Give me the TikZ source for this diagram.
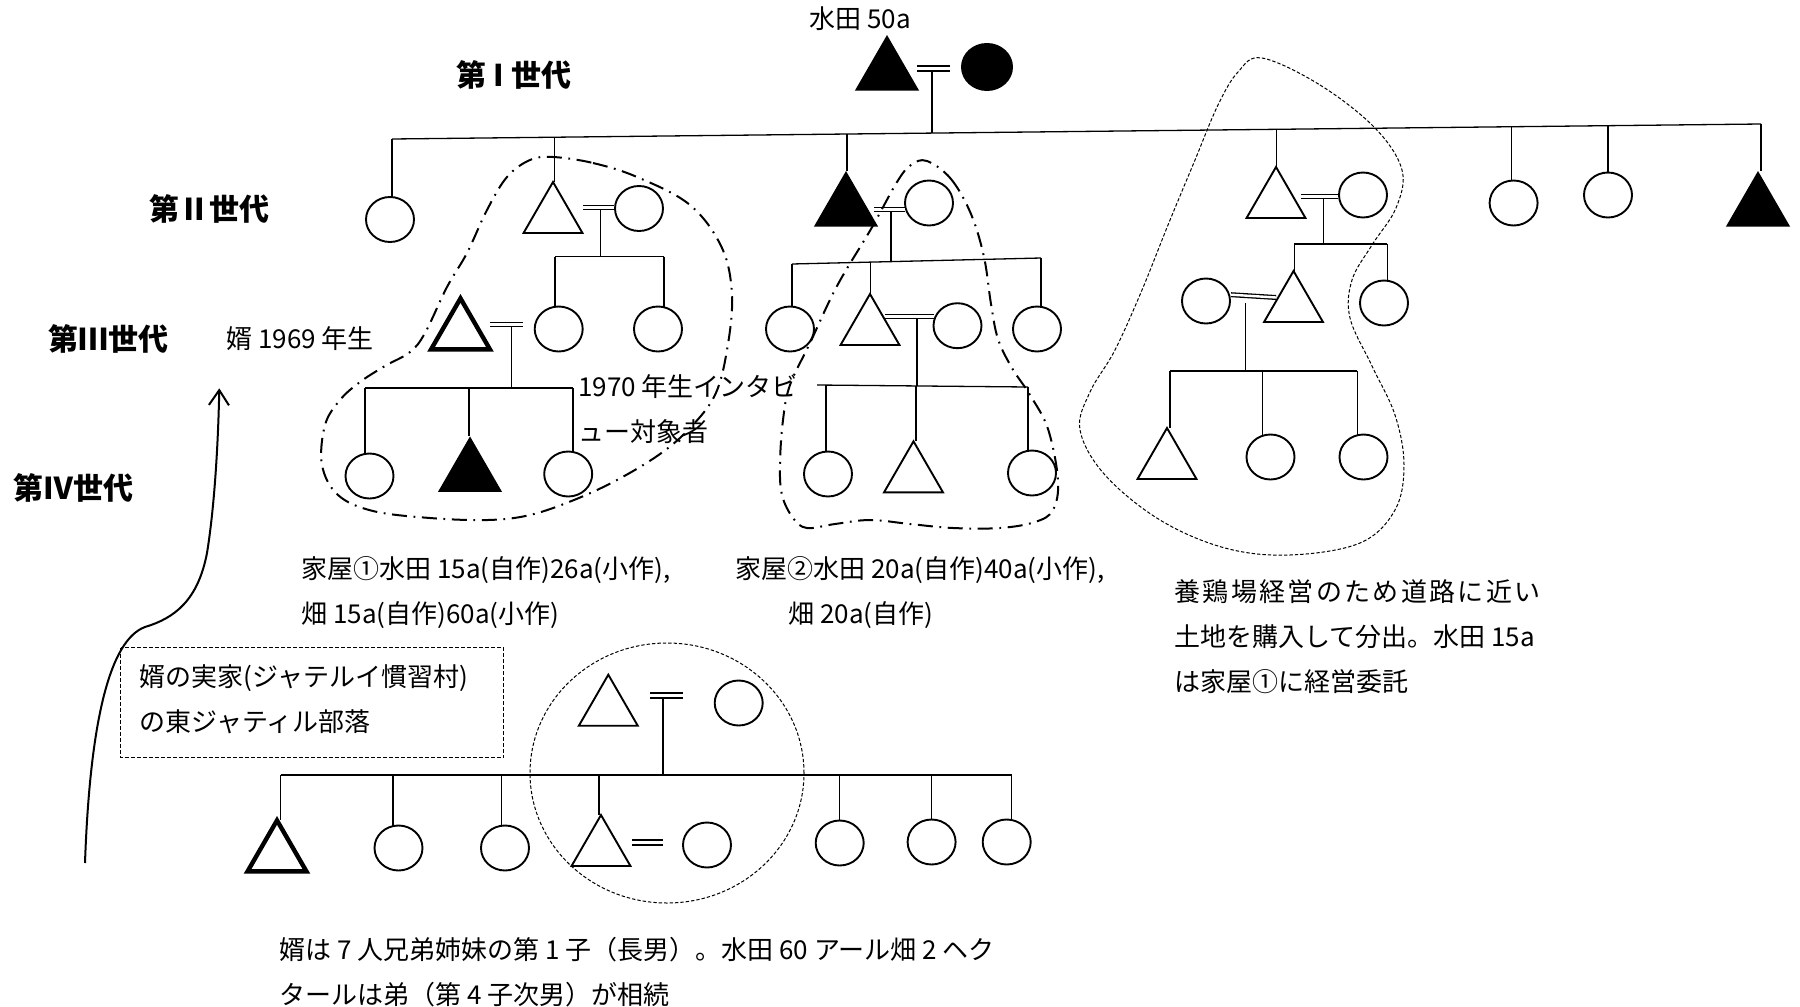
\documentclass[tikz,border=0pt]{standalone}
\usepackage{fontspec}
\setmainfont{Noto Sans CJK JP}
\usetikzlibrary{shapes.geometric,arrows.meta,calc}
\tikzset{
 conn/.style={line width=0.65pt},
 opentri/.style={regular polygon, regular polygon sides=3, draw, line width=0.95pt, minimum size=34pt, inner sep=0pt, outer sep=0pt},
 boldtri/.style={regular polygon, regular polygon sides=3, draw, line width=2.2pt, minimum size=34pt, inner sep=0pt, outer sep=0pt},
 filltri/.style={regular polygon, regular polygon sides=3, fill=black, minimum size=37pt, inner sep=0pt, outer sep=0pt},
 opencirc/.style={ellipse, draw, line width=0.95pt, minimum width=24pt, minimum height=22.5pt, inner sep=0pt, outer sep=0pt},
 fillcirc/.style={ellipse, fill=black, minimum width=26pt, minimum height=24pt, inner sep=0pt, outer sep=0pt},
 marr/.style={double, line width=0.65pt, double distance=1.2pt},
 marrthick/.style={double, line width=0.9pt, double distance=1.6pt},
 txt/.style={inner sep=0pt, font=\fontsize{13pt}{22.5pt}\selectfont, align=left},
 gen/.style={inner sep=0pt, font=\fontsize{15pt}{18pt}\selectfont\bfseries},
 ddot/.style={line width=1pt, dash pattern=on 7.5pt off 3.3pt on 0.9pt off 3.3pt},
 thindash/.style={line width=0.5pt, dash pattern=on 1.7pt off 1pt},
 boxdash/.style={line width=0.5pt, dash pattern=on 2pt off 1pt},
}
\begin{document}
\begin{tikzpicture}[x=0.5pt,y=-0.5pt]
\useasboundingbox (0,0) rectangle (1800,1007);

% ---------- generation labels ----------
\node[gen] (lg1) at (514,75) {第 I 世代};
\node[gen] (lg2) at (209.6,209) {第Ⅱ世代};
\node[gen] (lg3) at (108.5,339) {第Ⅲ世代};
\node[gen] (lg4) at (73,487.5) {第Ⅳ世代};

% ---------- generation I ----------
\node[txt] (lfield) at (860,19) {水田 50a};
\node[filltri] (g1m) at (887,72) {};
\node[fillcirc] (g1f) at (987,67) {};
\coordinate (e1a) at (917,68.2); \coordinate (e1b) at (950,68.2);
\draw[marrthick] (e1a) -- (e1b);
\coordinate (d1) at (932,70.5); \coordinate (b1) at (932,133.1);
\draw[conn] (d1) -- (b1);

% generation II sibling bar
\coordinate (B2L) at (392,139); \coordinate (B2R) at (1761,124);
\draw[conn] (B2L) -- (B2R);
\coordinate (p22) at (554.5,137.2);
\coordinate (p23) at (847,134.0);
\coordinate (p24) at (1276.5,129.3);
\coordinate (p25) at (1511.5,126.7);
\coordinate (p26) at (1608,125.7);

% ---------- generation II ----------
\node[opencirc] (c21) at (390,219.5) {};
\node[opentri] (t22) at (553,216) {};
\node[opencirc] (c22) at (639,208.5) {};
\node[filltri] (t23) at (846,208) {};
\node[opencirc] (c23) at (929,203) {};
\node[opentri] (t24) at (1276,201) {};
\node[opencirc] (c24) at (1363,195) {};
\node[opencirc] (c25) at (1513.6,203) {};
\node[opencirc] (c26) at (1608,195) {};
\node[filltri] (t27) at (1758,208) {};

\draw[conn] (B2L) -- (B2L |- c21.north);
\draw[conn] (p22) -- (p22 |- t22.north);
\draw[conn] (p23) -- (p23 |- t23.north);
\draw[conn] (p24) -- (p24 |- t24.north);
\draw[conn] (p25) -- (p25 |- c25.north);
\draw[conn] (p26) -- (p26 |- c26.north);
\draw[conn] (B2R) -- (B2R |- t27.north);

% marriages gen II
\coordinate (e22a) at (583,207.5); \coordinate (e22b) at (614,207.5);
\draw[marr] (e22a) -- (e22b);
\coordinate (e23a) at (874,209.5); \coordinate (e23b) at (905,209.5);
\draw[marr] (e23a) -- (e23b);
\coordinate (e24a) at (1301,196.6); \coordinate (e24b) at (1338,196.6);
\draw[marr] (e24a) -- (e24b);

% ---------- generation III, house 1 ----------
\coordinate (d22) at (600.7,209); \coordinate (b22) at (600.7,256.7);
\draw[conn] (d22) -- (b22);
\coordinate (B3aL) at (555,256.7); \coordinate (B3aR) at (664,256.7);
\draw[conn] (B3aL) -- (B3aR);
\node[boldtri] (t31) at (460.5,332.4) {};
\node[opencirc] (c31) at (558.7,329) {};
\node[opencirc] (c32) at (658,329) {};
\draw[conn] (B3aL) -- (B3aL |- c31.north);
\draw[conn] (B3aR) -- (B3aR |- c32.north);
\coordinate (e31a) at (490,324.5); \coordinate (e31b) at (523,324.5);
\draw[marr] (e31a) -- (e31b);

% ---------- generation III, house 2 ----------
\coordinate (d23) at (891,211); \coordinate (b23) at (891,261.6);
\draw[conn] (d23) -- (b23);
\coordinate (B3bL) at (792,264); \coordinate (B3bR) at (1041,258);
\draw[conn] (B3bL) -- (B3bR);
\coordinate (p34) at (870.5,262.1);
\node[opencirc] (c33) at (790,329) {};
\node[opentri] (t34) at (870,328) {};
\node[opencirc] (c35) at (957.5,325.7) {};
\node[opencirc] (c36) at (1037,329) {};
\draw[conn] (B3bL) -- (B3bL |- c33.north);
\draw[conn] (p34) -- (p34 |- t34.north);
\draw[conn] (B3bR) -- (B3bR |- c36.north);
\coordinate (e34a) at (885,316.5); \coordinate (e34b) at (934,316.5);
\draw[marr] (e34a) -- (e34b);

% ---------- generation III, branch house ----------
\coordinate (d24) at (1323.3,198); \coordinate (b24) at (1323.3,244);
\draw[conn] (d24) -- (b24);
\coordinate (B3cL) at (1294.3,244); \coordinate (B3cR) at (1387.3,244);
\draw[conn] (B3cL) -- (B3cR);
\node[opencirc] (c39) at (1206,301) {};
\node[opentri] (t37) at (1293.5,305) {};
\node[opencirc] (c38) at (1384,303) {};
\draw[conn] (B3cL) -- (B3cL |- t37.north);
\draw[conn] (B3cR) -- (B3cR |- c38.north);
\coordinate (e37a) at (1231,294.7); \coordinate (e37b) at (1276,297.5);
\draw[marr] (e37a) -- (e37b);

% ---------- generation IV, house 1 ----------
\coordinate (d31) at (511.7,326.5); \coordinate (b31) at (511.7,388);
\draw[conn] (d31) -- (b31);
\coordinate (B4aL) at (365,388); \coordinate (B4aR) at (573,388);
\coordinate (p42) at (469,388);
\draw[conn] (B4aL) -- (B4aR);
\node[opencirc] (c41) at (369.5,476) {};
\node[filltri] (t42) at (470,473.4) {};
\node[opencirc] (c43) at (568.2,474) {};
\draw[conn] (B4aL) -- (B4aL |- c41.north);
\draw[conn] (p42) -- (p42 |- t42.north);
\draw[conn] (B4aR) -- (B4aR |- c43.north);

% ---------- generation IV, house 2 ----------
\coordinate (d34) at (917,318.5); \coordinate (b34) at (917,386);
\draw[conn] (d34) -- (b34);
\coordinate (B4bL) at (817,385); \coordinate (B4bR) at (1028,387);
\draw[conn] (B4bL) -- (B4bR);
\coordinate (p44) at (826,385.1);
\coordinate (p45) at (916,385.9);
\node[opencirc] (c44) at (828,474) {};
\node[opentri] (t45) at (913.5,475.3) {};
\node[opencirc] (c46) at (1032,473) {};
\draw[conn] (p44) -- (p44 |- c44.north);
\draw[conn] (p45) -- (p45 |- t45.north);
\draw[conn] (B4bR) -- (B4bR |- c46.north);

% ---------- generation IV, branch house ----------
\coordinate (d37) at (1245.7,303); \coordinate (b37) at (1245.7,371);
\draw[conn] (d37) -- (b37);
\coordinate (B4cL) at (1170,371); \coordinate (B4cR) at (1357.3,371);
\coordinate (p48) at (1262.7,371);
\draw[conn] (B4cL) -- (B4cR);
\node[opentri] (t47) at (1167,462) {};
\node[opencirc] (c48) at (1270.5,457) {};
\node[opencirc] (c49) at (1363.5,457) {};
\draw[conn] (B4cL) -- (B4cL |- t47.north);
\draw[conn] (p48) -- (p48 |- c48.north);
\draw[conn] (B4cR) -- (B4cR |- c49.north);

% ---------- group outlines ----------
\draw[ddot] plot[smooth cycle, tension=0.6] coordinates {(553,157) (593,163) (637,177) (690,205) (722,248) (732,296) (727,350) (715,395) (690,428) (660,454) (617,480) (574,500) (530,515) (488,520) (430,518) (373,511) (338,495) (322,465) (325,425) (340,400) (360,382) (385,366) (410,352) (425,333) (447,287) (467,253) (487,210) (507,177) (530,160)};
\draw[ddot] plot[smooth cycle, tension=0.6] coordinates {(927,161) (951,179) (971,214) (984,257) (991,304) (998,339) (1012,368) (1030,395) (1048,429) (1058,480) (1053,510) (1035,522) (1000,528) (953,528) (910,524) (870,520) (835,524) (807,528) (793,518) (782,495) (780,464) (783,420) (790,385) (810,343) (837,286) (871,229) (897,182) (911,165)};
\draw[thindash] plot[smooth cycle, tension=0.6] coordinates {(1262,58) (1320,85) (1375,128) (1402,170) (1396,208) (1372,245) (1352,280) (1350,318) (1372,366) (1395,415) (1404,465) (1395,510) (1360,543) (1290,555) (1225,548) (1160,520) (1105,475) (1080,430) (1090,392) (1115,350) (1142,290) (1168,225) (1195,160) (1218,105) (1238,72)};

% ---------- texts, upper part ----------
\node[txt,anchor=west] (lmuko) at (226,339) {婿 1969 年生};
\node[txt,anchor=west] (lint) at (578,409.5) {1970 年生インタビ\\ュー対象者};
\node[txt,anchor=west] (cap1) at (301,592.5) {家屋①水田 15a(自作)26a(小作),\\畑 15a(自作)60a(小作)};
\node[txt,anchor=west] (cap2) at (735,592.5) {家屋②水田 20a(自作)40a(小作),\\\hspace*{26.5pt}畑 20a(自作)};
\node[txt,anchor=west] (cap3) at (1174,637) {\hbox to 183pt{養\hfil 鶏\hfil 場\hfil 経\hfil 営\hfil の\hfil た\hfil め\hfil 道\hfil 路\hfil に\hfil 近\hfil い}\\土地を購入して分出。水田 15a\\は家屋①に経営委託};

% ---------- husband's family ----------
\draw[boxdash] (120.7,647.7) rectangle (503.7,757.7);
\node[txt,anchor=west] (boxt) at (139.3,699) {婿の実家(ジャテルイ慣習村)\\の東ジャティル部落};

\node[opentri] (tb1) at (608.3,708.7) {};
\node[opencirc] (cb1) at (738.7,703) {};
\coordinate (eb1a) at (650,695.5); \coordinate (eb1b) at (682.7,695.5);
\draw[marrthick] (eb1a) -- (eb1b);
\coordinate (db1) at (663,697.5); \coordinate (bb1) at (663,775);
\draw[conn] (db1) -- (bb1);
\coordinate (BbL) at (280.6,775); \coordinate (BbR) at (1011.6,775);
\draw[conn] (BbL) -- (BbR);
\coordinate (pb2) at (393,775);
\coordinate (pb3) at (501.6,775);
\coordinate (pb4) at (599,775);
\coordinate (pb5) at (839.7,775);
\coordinate (pb6) at (931.6,775);
\node[boldtri] (tb2) at (277,854.4) {};
\node[opencirc] (cb2) at (398.5,848) {};
\node[opencirc] (cb3) at (505,848) {};
\node[opentri] (tb3) at (601,849) {};
\node[opencirc] (cb4) at (707,845) {};
\node[opencirc] (cb5) at (839.7,843) {};
\node[opencirc] (cb6) at (931.6,842) {};
\node[opencirc] (cb7) at (1006.7,842) {};
\draw[conn] (BbL) -- (BbL |- tb2.north);
\draw[conn] (pb2) -- (pb2 |- cb2.north);
\draw[conn] (pb3) -- (pb3 |- cb3.north);
\draw[conn] (pb4) -- (pb4 |- tb3.north);
\draw[conn] (pb5) -- (pb5 |- cb5.north);
\draw[conn] (pb6) -- (pb6 |- cb6.north);
\draw[conn] (BbR) -- (BbR |- cb7.north);
\coordinate (eb4a) at (632,842.5); \coordinate (eb4b) at (663,842.5);
\draw[marrthick] (eb4a) -- (eb4b);
\node[thindash, draw, ellipse, minimum width=137pt, minimum height=130pt, inner sep=0pt] (grp) at (667,773) {};

\node[txt,anchor=west] (bot) at (279,972) {婿は 7 人兄弟姉妹の第 1 子（長男）。水田 60 アール畑 2 ヘク\\タールは弟（第 4 子次男）が相続};

% ---------- arrow ----------
\coordinate (arS) at (85,863); \coordinate (arE) at (219.3,388.3);
\draw[line width=1pt, -{Straight Barb[length=7.5pt,width=10pt]}] (arS) .. controls (90,720) and (110,640) .. (145,627) .. controls (175,618) and (198,600) .. (207,553) .. controls (214,510) and (218,450) .. (arE);
\end{tikzpicture}
\end{document}
